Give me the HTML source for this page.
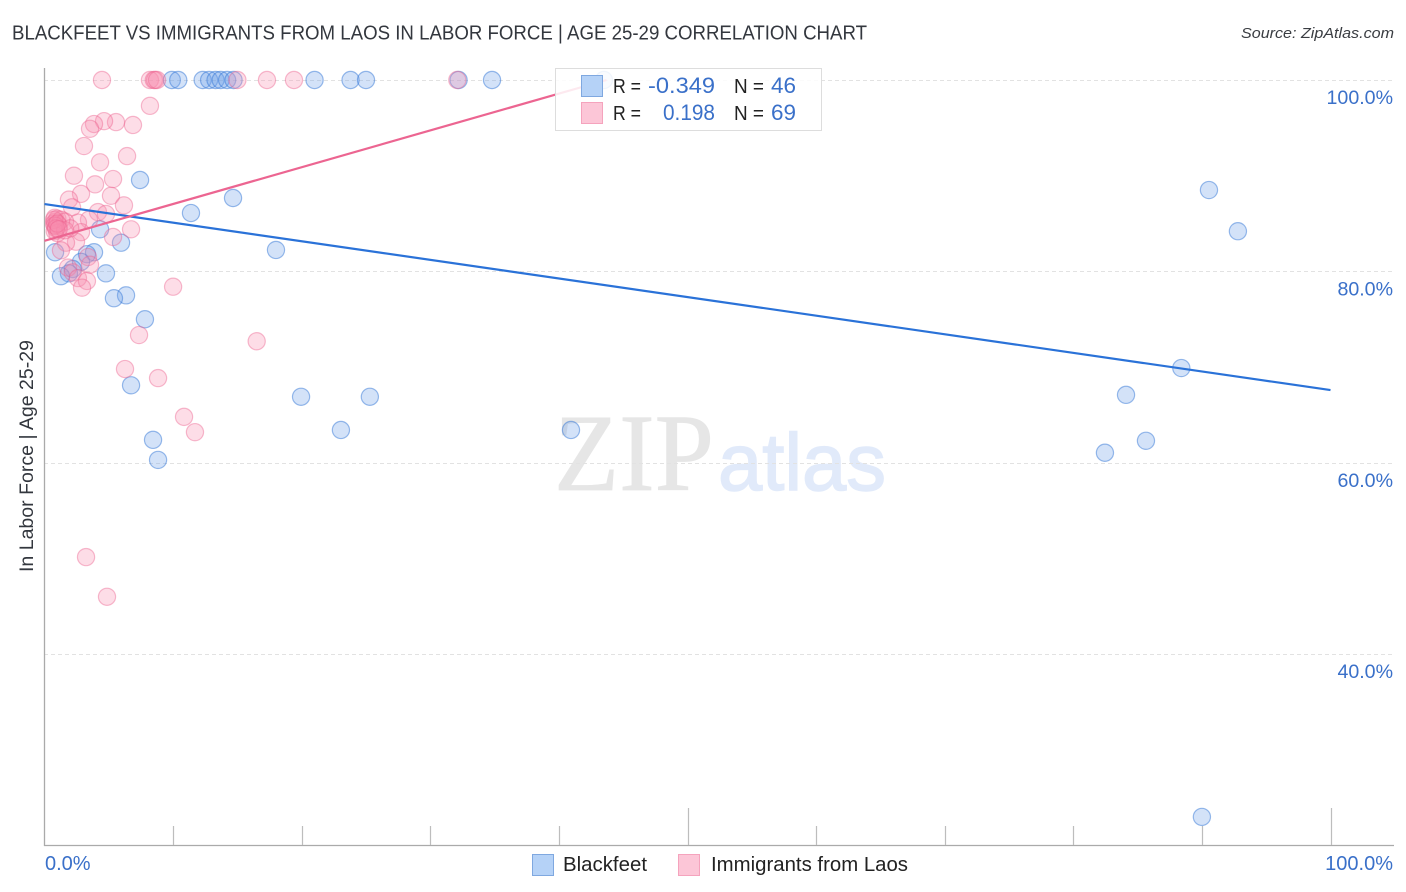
<!DOCTYPE html>
<html lang="en">
<head>
<meta charset="utf-8">
<title>Blackfeet vs Immigrants from Laos in Labor Force | Age 25-29 Correlation Chart</title>
<style>
html,body{margin:0;padding:0;background:#fff;}
body{width:1406px;height:892px;overflow:hidden;}
svg{display:block;}
text{font-family:"Liberation Sans",sans-serif;}
</style>
</head>
<body>
<svg id="chart" xmlns="http://www.w3.org/2000/svg" width="1406" height="892" viewBox="0 0 1406 892">
  <rect x="0" y="0" width="1406" height="892" fill="#ffffff"/>
  <text x="12" y="39.5" font-size="20" fill="#33373e" textLength="855" lengthAdjust="spacingAndGlyphs">BLACKFEET VS IMMIGRANTS FROM LAOS IN LABOR FORCE | AGE 25-29 CORRELATION CHART</text>
  <text x="1394" y="38" font-size="15" font-style="italic" fill="#3a3d42" text-anchor="end" textLength="153" lengthAdjust="spacingAndGlyphs">Source: ZipAtlas.com</text>
  <g>
    <text x="554" y="490" font-size="110" fill="#e6e6e6" stroke="#e6e6e6" stroke-width="0.8" textLength="160" lengthAdjust="spacingAndGlyphs" style="font-family:'Liberation Serif',serif">ZIP</text>
    <text x="718" y="490" font-size="81" fill="#e1eafa" stroke="#e1eafa" stroke-width="1.5" textLength="168" lengthAdjust="spacingAndGlyphs">atlas</text>
  </g>
  <g id="grid"></g>
  <g id="axes"></g>
  <g id="points-blue"></g>
  <g id="points-pink"></g>
  <g id="trends"></g>
  <text transform="translate(33,456) rotate(-90)" font-size="19" fill="#33373e" text-anchor="middle" textLength="232" lengthAdjust="spacingAndGlyphs">In Labor Force | Age 25-29</text>

  <g>
    <rect x="555.5" y="68.5" width="266" height="62" fill="#ffffff" fill-opacity="0.86" stroke="#dddddd" stroke-width="1"/>
    <rect x="581.5" y="75.5" width="21" height="21" fill="#b5d2f7" stroke="#7fa8e0" stroke-width="1"/>
    <rect x="581.5" y="102.5" width="21" height="21" fill="#fcc6d7" stroke="#f5a3bd" stroke-width="1"/>
    <text x="613" y="93" font-size="20" fill="#222" textLength="28" lengthAdjust="spacingAndGlyphs">R =</text>
    <text x="715" y="93" font-size="22" fill="#3a70c9" text-anchor="end" textLength="67" lengthAdjust="spacingAndGlyphs">-0.349</text>
    <text x="734" y="93" font-size="20" fill="#222" textLength="30" lengthAdjust="spacingAndGlyphs">N =</text>
    <text x="771" y="93" font-size="22" fill="#3a70c9" textLength="25" lengthAdjust="spacingAndGlyphs">46</text>
    <text x="613" y="120" font-size="20" fill="#222" textLength="28" lengthAdjust="spacingAndGlyphs">R =</text>
    <text x="715" y="120" font-size="22" fill="#3a70c9" text-anchor="end" textLength="52" lengthAdjust="spacingAndGlyphs">0.198</text>
    <text x="734" y="120" font-size="20" fill="#222" textLength="30" lengthAdjust="spacingAndGlyphs">N =</text>
    <text x="771" y="120" font-size="22" fill="#3a70c9" textLength="25" lengthAdjust="spacingAndGlyphs">69</text>
  </g>

  <g>
    <rect x="532.5" y="854.5" width="21" height="21" fill="#b5d2f7" stroke="#7fa8e0" stroke-width="1"/>
    <text x="563" y="871" font-size="20" fill="#222" textLength="84" lengthAdjust="spacingAndGlyphs">Blackfeet</text>
    <rect x="678.5" y="854.5" width="21" height="21" fill="#fcc6d7" stroke="#f5a3bd" stroke-width="1"/>
    <text x="711" y="871" font-size="20" fill="#222" textLength="197" lengthAdjust="spacingAndGlyphs">Immigrants from Laos</text>
  </g>
</svg>
<script>
var yTicks = [100, 80, 60, 40];
var yTickLabels = ["100.0%", "80.0%", "60.0%", "40.0%"];
var xTicks = [10, 20, 30, 40, 50, 60, 70, 80, 90, 100];
var xMajorTicks = [50, 100];
var xEndTicks = [0, 100];
var xEndLabels = ["0.0%", "100.0%"];

var blackfeetX = [9.9,10.4,12.3,12.8,13.3,13.7,14.2,14.7,21.0,23.8,25.0,32.2,34.8,43.5,7.43,11.39,14.66,18.0,90.55,92.8,88.4,84.1,85.65,82.46,90.0,40.94,25.3,19.95,23.05,8.44,8.83,6.73,7.81,6.34,5.4,5.95,4.78,4.32,3.85,3.3,2.84,2.2,1.9,1.28,0.82];
var blackfeetY = [100,100,100,100,100,100,100,100,100,100,100,100,100,100,89.55,86.1,87.67,82.24,88.5,84.2,69.9,67.1,62.3,61.05,23.0,63.43,66.9,66.9,63.43,62.4,60.3,68.1,75.0,77.5,77.2,83.0,79.8,84.4,82.0,81.8,81.0,80.25,79.8,79.5,82.0];

var laosX = [4.47,8.2,8.5,8.6,8.75,15.0,17.3,19.4,32.1,8.2,6.88,5.56,4.63,3.85,3.54,3.07,4.32,6.42,2.29,5.33,3.93,2.84,5.17,1.9,2.14,6.18,4.16,4.78,3.46,6.73,2.6,2.84,5.33,2.45,1.67,1.28,0.8,0.85,0.9,0.75,1.0,1.1,1.3,1.6,0.8,1.0,1.6,2.0,0.75,0.8,0.9,1.0,1.1,3.38,3.54,1.83,2.2,2.6,3.3,2.92,10.0,7.35,6.26,16.5,8.83,10.85,11.7,3.23,4.86];
var laosY = [100,100,100,100,100,100,100,100,100,97.3,95.3,95.6,95.7,95.4,94.9,93.1,91.4,92.05,90.0,89.65,89.1,88.1,87.9,87.5,86.7,86.9,86.2,86.0,85.4,84.4,85.1,84.1,83.6,83.1,83.0,82.2,85.6,85.2,84.7,85.0,85.5,84.8,85.4,85.2,84.2,84.0,84.3,84.5,85.4,84.8,84.5,85.0,84.4,81.5,80.7,80.4,79.9,79.3,79.0,78.3,78.4,73.35,69.8,72.7,68.85,64.8,63.2,50.15,46.0];

var blackfeetTrendX = [0, 100];
var blackfeetTrendY = [87.04, 67.6];
var laosTrendX = [0, 43.7];
var laosTrendY = [83.2, 100];

function xScale(v) { return 44.5 + v * 12.86; }
function yScale(v) { return 80 + (100 - v) * 9.57; }

var NS = "http://www.w3.org/2000/svg";
function make(tag, parent, attrs) {
  var el = document.createElementNS(NS, tag);
  for (var k in attrs) { el.setAttribute(k, attrs[k]); }
  parent.appendChild(el);
  return el;
}

var gridG = document.getElementById("grid");
var axesG = document.getElementById("axes");

yTicks.forEach(function (t, i) {
  var y = Math.round(yScale(t)) + 0.5;
  var line = make("line", gridG, { x1: 44, x2: 1394, y1: y, y2: y, stroke: "#e2e2e2", "stroke-width": 1, "stroke-dasharray": "4 3" });
  
  
  var label = make("text", axesG, { x: 1393, y: yScale(t) + 24, "font-size": 19.6, fill: "#3a70c9", "text-anchor": "end" });
  
  
  label.textContent = yTickLabels[i];
});

var yAxis = make("line", axesG, { x1: 44.5, x2: 44.5, y1: 68, y2: 846, stroke: "#aaaaaa", "stroke-width": 1.3 });


var xAxis = make("line", axesG, { x1: 44, x2: 1394, y1: 845.5, y2: 845.5, stroke: "#aaaaaa", "stroke-width": 1.3 });



xTicks.forEach(function (t) {
  var x = Math.round(xScale(t)) + 0.5;
  var top = xMajorTicks.indexOf(t) >= 0 ? 808 : 826;
  var tick = make("line", axesG, { x1: x, x2: x, y1: top, y2: 845, stroke: "#bdbdbd", "stroke-width": 1.2 });
  
  
});

xEndTicks.forEach(function (t, i) {
  var lbl = make("text", axesG, {
    x: i === 0 ? xScale(t) + 0.5 : 1393,
    y: 870,
    "font-size": 20,
    fill: "#3a70c9",
    "text-anchor": i === 0 ? "start" : "end"
  });
  
  
  lbl.textContent = xEndLabels[i];
});

var blueG = document.getElementById("points-blue");
blackfeetX.forEach(function (v, i) {
  var c = make("circle", blueG, { cx: xScale(v), cy: yScale(blackfeetY[i]), r: 8.6, fill: "#6d9ee8", "fill-opacity": 0.3, stroke: "#2f72d6", "stroke-opacity": 0.48, "stroke-width": 1.2 });
  
  
});

var pinkG = document.getElementById("points-pink");
laosX.forEach(function (v, i) {
  var c = make("circle", pinkG, { cx: xScale(v), cy: yScale(laosY[i]), r: 8.6, fill: "#f78fb0", "fill-opacity": 0.3, stroke: "#ec5f8c", "stroke-opacity": 0.42, "stroke-width": 1.2 });
  
  
});

var trendG = document.getElementById("trends");
var blueLine = make("line", trendG, { x1: xScale(blackfeetTrendX[0]), y1: yScale(blackfeetTrendY[0]), x2: xScale(blackfeetTrendX[1]), y2: yScale(blackfeetTrendY[1]), stroke: "#2a72d8", "stroke-width": 2.2 });


var pinkLine = make("line", trendG, { x1: xScale(laosTrendX[0]), y1: yScale(laosTrendY[0]), x2: xScale(laosTrendX[1]), y2: yScale(laosTrendY[1]), stroke: "#ec6591", "stroke-width": 2.2 });


</script>
</body>
</html>
